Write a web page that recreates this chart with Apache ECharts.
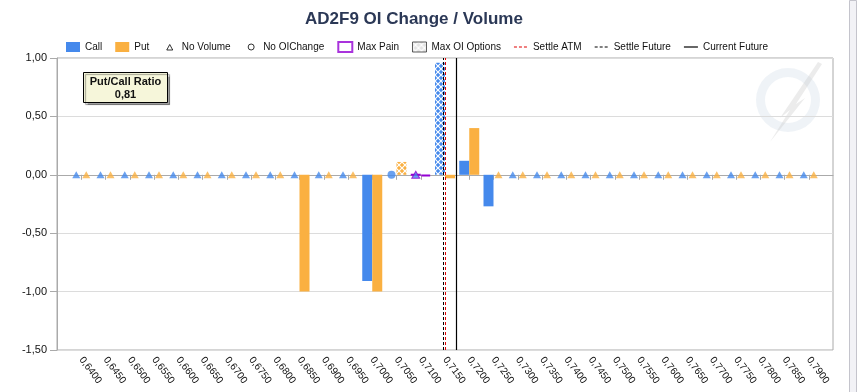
<!DOCTYPE html>
<html><head><meta charset="utf-8">
<script src="https://cdn.jsdelivr.net/npm/echarts@6/dist/echarts.min.js"></script>
<style>html,body{margin:0;padding:0;background:#fff}#c{width:862px;height:392px}</style>
</head><body><div id="c"></div>
<script>
// ---- data ----
const strikes = ['0.6400','0.6450','0.6500','0.6550','0.6600','0.6650','0.6700','0.6750','0.6800','0.6850',
  '0.6900','0.6950','0.7000','0.7050','0.7100','0.7150','0.7200','0.7250','0.7300','0.7350',
  '0.7400','0.7450','0.7500','0.7550','0.7600','0.7650','0.7700','0.7750','0.7800','0.7850','0.7900'];
const callChange = [null,null,null,null,null,null,null,null,null,null,
  null,null,-0.91,0,0,0.96,0.12,-0.27,null,null,
  null,null,null,null,null,null,null,null,null,null,null];
const putChange = [null,null,null,null,null,null,null,null,null,-1.00,
  null,null,-1.00,0.11,-0.01,-0.03,0.40,null,null,null,
  null,null,null,null,null,null,null,null,null,null,null];
// N = no volume, O = no OI change
const callFlag = ['N','N','N','N','N','N','N','N','N','N',
  'N','N','','O','N','','','','N','N',
  'N','N','N','N','N','N','N','N','N','N','N'];
const putFlag = ['N','N','N','N','N','N','N','N','N','',
  'N','N','','','','','','N','N','N',
  'N','N','N','N','N','N','N','N','N','N','N'];
const maxPainStrike = '0.7100';
const maxOICallStrike = '0.7150';
const maxOIPutStrike = '0.7050';
const settleATM = 0.7150;
const settleFuture = 0.71465;
const currentFuture = 0.7173;
const putCallRatio = '0,81';
const yTicks = [-1.5, 1.0, 0.5];   // min, max, interval
const axisPadMin = 0.6350, axisPadMax = 0.7950;

// ---- styling ----
const FONT = 'Liberation Sans';
const CALL = '#4589EC', PUT = '#FAB041', PURPLE = '#9400D3';
function hatch(color, bg) {
  const c = document.createElement('canvas');
  c.width = 6; c.height = 6;
  const g = c.getContext('2d');
  g.fillStyle = color; g.fillRect(0, 0, 6, 6);
  g.strokeStyle = bg; g.lineWidth = 1.2;
  g.beginPath();
  g.moveTo(0, 0); g.lineTo(6, 6);
  g.moveTo(6, 0); g.lineTo(0, 6);
  g.stroke();
  return c;
}
const cats = [''].concat(strikes, ['']);
function barData(vals, color, maxOI) {
  const out = [null];
  vals.forEach((v, i) => {
    if (v === null) { out.push(null); return; }
    const s = strikes[i];
    const item = { value: v, itemStyle: { color: color } };
    if (s === maxOI) item.itemStyle.color = { image: hatch(color, '#ffffff'), repeat: 'repeat' };
    if (s === maxPainStrike) { item.itemStyle.borderColor = PURPLE; item.itemStyle.borderWidth = 2; item.itemStyle.color = 'rgba(0,0,0,0)'; }
    out.push(item);
  });
  out.push(null);
  return out;
}
function flagData(flags, f, color) {
  const out = ['-'];
  flags.forEach((x, i) => {
    if (x !== f) { out.push('-'); return; }
    const item = { value: 0, itemStyle: { color: color } };
    if (strikes[i] === maxPainStrike) { item.itemStyle.borderColor = PURPLE; item.itemStyle.borderWidth = 1; }
    out.push(item);
  });
  out.push('-');
  return out;
}
const dash = 'path://M0,0M14,10M0,4.5h3v1h-3zM5,4.5h3v1h-3zM10,4.5h3v1h-3z';
const solid = 'path://M0,0M14,10M0,4.4h14v1.2h-14z';
const tri = 'path://M0,0M14,10M4,8L7,2.5L10,8Z';
const circ = 'path://M0,0M14,10M10,5A3,3 0 1 1 4,5A3,3 0 1 1 10,5Z';
const ml = (color, type, width, x) => ({ silent: true, symbol: 'none', precision: 6, label: { show: false },
  lineStyle: { color: color, type: type, width: width }, data: [{ xAxis: x }] });

const chart = echarts.init(document.getElementById('c'));
chart.setOption({
  animation: false,
  backgroundColor: '#fff',
  textStyle: { fontFamily: FONT },
  title: { text: 'AD2F9 OI Change / Volume', left: 300, top: 6,
    textStyle: { fontFamily: FONT, fontSize: 17, fontWeight: 'bold', color: '#2B3856' } },
  legend: {
    left: 61, top: 36, itemWidth: 14, itemHeight: 10, itemGap: 13,
    textStyle: { fontFamily: FONT, fontSize: 10, color: '#111' },
    selectedMode: false,
    data: [
      { name: 'Call', icon: 'rect', itemStyle: { color: CALL } },
      { name: 'Put', icon: 'rect', itemStyle: { color: PUT } },
      { name: 'No Volume', icon: tri, itemStyle: { color: 'rgba(0,0,0,0)', borderColor: '#000', borderWidth: 1 } },
      { name: 'No OIChange', icon: circ, itemStyle: { color: 'rgba(0,0,0,0)', borderColor: '#000', borderWidth: 1 } },
      { name: 'Max Pain', icon: 'rect', itemStyle: { color: '#fff', borderColor: PURPLE, borderWidth: 2 } },
      { name: 'Max OI Options', icon: 'rect', itemStyle: { color: { image: hatch('#dddddd', '#ffffff'), repeat: 'repeat' }, borderColor: '#333', borderWidth: 1 } },
      { name: 'Settle ATM', icon: dash, itemStyle: { color: '#E00000' } },
      { name: 'Settle Future', icon: dash, itemStyle: { color: '#000' } },
      { name: 'Current Future', icon: solid, itemStyle: { color: '#000' } }
    ]
  },
  grid: { left: 57, right: 29, top: 58, bottom: 42, show: true, borderColor: '#aaa', borderWidth: 1, backgroundColor: 'rgba(0,0,0,0)' },
  xAxis: [{
    type: 'category', data: cats, boundaryGap: false,
    axisLine: { lineStyle: { color: '#aaa' } },
    axisTick: { length: 5, lineStyle: { color: '#aaa' }, interval: (i) => i > 0 && i < cats.length - 1 },
    axisLabel: { interval: 0, rotate: -53, fontSize: 10, color: '#111', margin: 8, fontFamily: FONT,
      formatter: (v) => v.replace('.', ',') },
    splitLine: { show: false }
  }, {
    type: 'value', min: axisPadMin, max: axisPadMax, show: false
  }],
  yAxis: {
    type: 'value', min: yTicks[0], max: yTicks[1], interval: yTicks[2],
    axisLine: { show: true, lineStyle: { color: '#aaa' } },
    axisTick: { show: true, length: 7, lineStyle: { color: '#aaa' } },
    axisLabel: { fontSize: 11, color: '#111', margin: 10, fontFamily: FONT,
      formatter: (v) => v.toFixed(2).replace('.', ',') },
    splitLine: { lineStyle: { color: '#dcdcdc' } }
  },
  graphic: [
    { type: 'rect', left: 849, top: 0, shape: { width: 7, height: 392 }, style: { fill: '#f2f2f6', stroke: '#c4c4cc', lineWidth: 1 }, silent: true },
    { type: 'ring', left: 756, top: 68, shape: { cx: 32, cy: 32, r: 32, r0: 23 }, style: { fill: 'rgba(210,222,232,0.35)' }, silent: true, z: -1 },
    { type: 'polygon', silent: true, z: -1, shape: { points: [[818,62],[780,118],[790,110],[770,142],[805,98],[796,104],[822,64]] }, style: { fill: 'rgba(200,200,200,0.35)' } },
    { type: 'group', left: 83, top: 72, children: [
      { type: 'rect', shape: { x: 0, y: 0, width: 84, height: 30 }, style: { fill: '#F6F6DA', stroke: '#000', lineWidth: 1, shadowColor: 'rgba(0,0,0,0.35)', shadowOffsetX: 2, shadowOffsetY: 2, shadowBlur: 1 } },
      { type: 'text', style: { x: 42, y: 9, text: 'Put/Call Ratio', align: 'center', verticalAlign: 'middle', font: 'bold 11px "' + FONT + '"', fill: '#111' } },
      { type: 'text', style: { x: 42, y: 22, text: putCallRatio, align: 'center', verticalAlign: 'middle', font: 'bold 11px "' + FONT + '"', fill: '#111' } }
    ] }
  ],
  series: [
    { name: 'Call', type: 'bar', barWidth: 10, barGap: '0%', data: barData(callChange, CALL, maxOICallStrike), z: 2 },
    { name: 'Put', type: 'bar', barWidth: 10, barGap: '0%', data: barData(putChange, PUT, maxOIPutStrike), z: 2 },
    { name: 'No Volume', type: 'scatter', symbol: 'triangle', symbolSize: [8, 7], symbolOffset: [-5, 0], data: flagData(callFlag, 'N', CALL), z: 4 },
    { name: 'No Volume', type: 'scatter', symbol: 'triangle', symbolSize: [8, 7], symbolOffset: [5, 0], data: flagData(putFlag, 'N', PUT), z: 4 },
    { name: 'No OIChange', type: 'scatter', symbol: 'circle', symbolSize: 8, symbolOffset: [-5, 0], data: flagData(callFlag, 'O', CALL), z: 4 },
    { name: 'No OIChange', type: 'scatter', symbol: 'circle', symbolSize: 8, symbolOffset: [5, 0], data: flagData(putFlag, 'O', PUT), z: 4 },
    { name: 'Max Pain', type: 'scatter', data: [] },
    { name: 'Max OI Options', type: 'scatter', data: [] },
    { name: 'Settle ATM', type: 'line', xAxisIndex: 1, data: [], z: 6, markLine: ml('#E00000', [3, 2], 1, settleATM) },
    { name: 'Settle Future', type: 'line', xAxisIndex: 1, data: [], z: 5, markLine: ml('#000', [3, 2], 1, settleFuture) },
    { name: 'Current Future', type: 'line', xAxisIndex: 1, data: [], z: 5, markLine: ml('#000', 'solid', 1.2, currentFuture) }
  ]
});
</script></body></html>
